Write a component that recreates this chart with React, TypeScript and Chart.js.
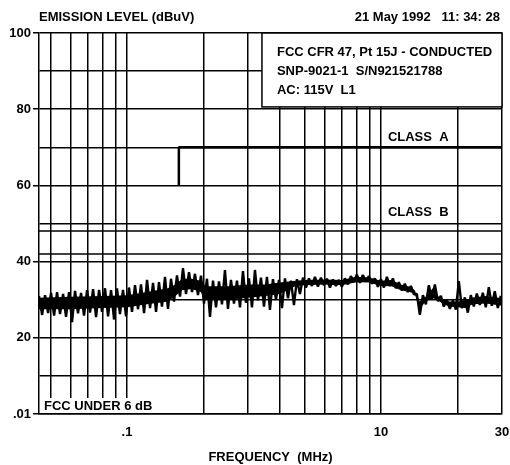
import { useEffect, useRef } from 'react';
import { Chart, registerables } from 'chart.js';

Chart.register(...registerables);

const freqMHz = [
  0.450, 0.463, 0.4755, 0.4887, 0.502, 0.516, 0.530, 0.5446, 0.5598, 0.575,
  0.591, 0.6073, 0.624, 0.641, 0.659, 0.677, 0.696, 0.715, 0.735, 0.755,
  0.776, 0.797, 0.819, 0.842, 0.865, 0.889, 0.913, 0.938, 0.964, 0.991,
  1.018, 1.046, 1.075, 1.105, 1.135, 1.167, 1.199, 1.232, 1.266, 1.301,
  1.336, 1.373, 1.411, 1.450, 1.490, 1.531, 1.573, 1.617, 1.661, 1.707,
  1.754, 1.803, 1.852, 1.903, 1.956, 2.010, 2.065, 2.122, 2.181, 2.241,
  2.303, 2.366, 2.431, 2.498, 2.567, 2.638, 2.711, 2.786, 2.862, 2.941,
  3.022, 3.106, 3.191, 3.279, 3.370, 3.463, 3.558, 3.656, 3.757, 3.861,
  3.967, 4.077, 4.189, 4.305, 4.423, 4.545, 4.671, 4.799, 4.932, 5.068,
  5.207, 5.351, 5.499, 5.649, 5.806, 5.966, 6.130, 6.299, 6.471, 6.650,
  6.833, 7.022, 7.215, 7.414, 7.618, 7.828, 8.044, 8.265, 8.493, 8.727,
  8.968, 9.218, 9.471, 9.732, 10.0, 10.28, 10.56, 10.85, 11.15, 11.46,
  11.77, 12.10, 12.43, 12.77, 13.13, 13.49, 13.86, 14.24, 14.64, 15.04,
  15.45, 15.88, 16.32, 16.77, 17.23, 17.70, 18.19, 18.70, 19.21, 19.74,
  20.28, 20.84, 21.42, 22.00, 22.61, 23.23, 23.88, 24.53, 25.21, 25.90,
  26.62, 27.35, 28.10, 28.88, 29.67,
];
const levelDbuV = [
  31.0, 26.0, 31.2, 26.5, 31.8, 25.8, 32.0, 26.2, 31.5, 25.5,
  32.0, 24.1, 32.3, 26.4, 31.8, 25.8, 32.5, 26.6, 32.8, 25.4,
  32.6, 26.8, 33.0, 25.6, 32.5, 24.8, 33.0, 26.2, 32.6, 25.6,
  33.2, 26.8, 33.8, 27.5, 34.0, 26.5, 35.2, 27.8, 34.4, 26.8,
  34.6, 28.2, 36.0, 27.6, 35.5, 29.5, 36.4, 30.8, 38.3, 31.5,
  37.2, 32.0, 36.8, 31.2, 36.3, 29.0, 35.5, 25.5, 35.0, 28.0,
  34.8, 28.8, 37.8, 27.6, 35.2, 29.0, 35.0, 28.0, 37.5, 29.2,
  35.6, 28.0, 37.8, 29.8, 35.8, 28.2, 36.0, 27.3, 35.4, 30.0,
  35.2, 27.8, 35.6, 30.4, 35.0, 28.6, 35.4, 31.5, 35.8, 33.2,
  35.6, 33.6, 36.0, 33.4, 35.8, 33.8, 35.5, 33.2, 35.3, 33.6,
  35.2, 33.4, 35.6, 34.0, 36.2, 34.6, 36.6, 34.4, 36.5, 34.8,
  36.2, 34.2, 35.6, 33.4, 35.4, 33.2, 36.0, 33.6, 35.6, 33.0,
  34.6, 32.4, 34.2, 32.0, 33.6, 31.4, 31.5, 26.0, 31.2, 28.8,
  33.8, 30.0, 34.0, 29.6, 31.0, 28.2, 30.0, 27.6, 29.8, 27.4,
  34.9, 27.8, 30.6, 26.6, 31.2, 28.2, 31.6, 28.6, 31.8, 28.0,
  33.3, 28.4, 32.2, 27.8, 31.0,
];

// Solid core of the trace (where the sweep is densely overlapped)
const coreFreq = [
  0.45, 0.6, 0.8, 1.0, 1.2, 1.45, 1.55, 1.65, 1.8, 1.95,
  2.05, 2.5, 3.0, 3.5, 4.0, 4.6, 5, 6, 7, 8,
  9, 10, 11, 12, 13, 13.6, 14.2, 15, 16, 17,
  18.5, 20, 21.5, 23, 26, 30,
];
const coreHigh = [
  30.5, 30.8, 31.0, 31.2, 32.0, 33.0, 34.0, 35.5, 35.5, 35.0,
  33.5, 33.5, 34.0, 34.0, 34.5, 35.0, 35.2, 35.3, 35.2, 36.0,
  35.8, 35.0, 35.2, 34.0, 33.4, 32.5, 29.5, 30.8, 33.0, 30.5,
  29.5, 29.5, 29.8, 30.6, 31.0, 30.4,
];
const coreLow = [
  27.5, 27.5, 27.8, 28.0, 28.8, 29.5, 31.0, 32.5, 32.8, 32.0,
  30.0, 30.0, 30.5, 31.0, 31.5, 33.5, 33.8, 34.0, 33.8, 34.6,
  34.5, 33.6, 33.5, 32.5, 32.0, 31.5, 27.5, 29.5, 30.5, 29.5,
  28.2, 28.0, 27.8, 28.8, 29.0, 28.4,
];

// Limit lines
const classAFreq = [1.6, 1.6, 30];
const classALevel = [60, 70, 70];
const classBFreq = [0.45, 30];
const classBLevel = [48, 48];
const marginFreq = [0.45, 30];
const marginLevel = [42, 42];

// Axes
const xMin = 0.45;
const xMax = 30;
const xGridMHz = [0.5, 0.6, 0.7, 0.8, 0.9, 1, 2, 3, 4, 5, 6, 7, 8, 9, 10, 20, 30];
const xTickLabels: Record<number, string> = { 1: '.1', 10: '10', 30: '30' };
const yGrid = [0, 10, 20, 30, 40, 50, 60, 70, 80, 90, 100];
const yTickLabels: Record<number, string> = { 0: '.01', 20: '20', 40: '40', 60: '60', 80: '80', 100: '100' };

const headerLines = ['FCC CFR 47, Pt 15J - CONDUCTED', 'SNP-9021-1  S/N921521788', 'AC: 115V  L1'];
const FAMILY = '"Liberation Sans", Arial, sans-serif';
const FONT = 'bold 13px ' + FAMILY;

const annotations = {
  id: 'annotations',
  afterDatasetsDraw(chart: any) {
    const { ctx, chartArea: a, scales } = chart;
    const x = scales.x;
    const y = scales.y;
    ctx.save();
    // info box
    const bx = x.getPixelForValue(3.4);
    const by = y.getPixelForValue(100);
    const bb = y.getPixelForValue(80.6);
    ctx.fillStyle = '#fff';
    ctx.fillRect(bx, by, a.right - bx, bb - by);
    ctx.strokeStyle = '#000';
    ctx.lineWidth = 1.5;
    ctx.strokeRect(bx, by, a.right - bx, bb - by);
    ctx.fillStyle = '#000';
    ctx.font = FONT;
    ctx.textBaseline = 'middle';
    ctx.textAlign = 'left';
    headerLines.forEach((t, i) => ctx.fillText(t, bx + 15, by + 19 + i * 19));
    // class labels
    const cx = x.getPixelForValue(10) + 7;
    ctx.fillText('CLASS  A', cx, y.getPixelForValue(70) - 10);
    ctx.fillText('CLASS  B', cx, y.getPixelForValue(50) - 11);
    // FCC under note
    ctx.fillStyle = '#fff';
    ctx.fillRect(a.left + 1, a.bottom - 16, 122, 15);
    ctx.fillStyle = '#000';
    ctx.fillText('FCC UNDER 6 dB', a.left + 5, a.bottom - 8);
    ctx.restore();
  },
  afterDraw(chart: any) {
    const { ctx, chartArea: a } = chart;
    ctx.save();
    ctx.fillStyle = '#000';
    ctx.font = FONT;
    ctx.textBaseline = 'middle';
    ctx.textAlign = 'left';
    ctx.fillText('EMISSION LEVEL (dBuV)', a.left, 17);
    ctx.textAlign = 'right';
    ctx.fillText('21 May 1992   11: 34: 28', a.right - 2, 17);
    ctx.restore();
  },
};

export default function App() {
  const ref = useRef<HTMLCanvasElement>(null);
  useEffect(() => {
    if (!ref.current) return;
    const line = (fx: number[], ly: number[], w: number, fill: any = false) => ({
      data: fx.map((f, i) => ({ x: f, y: ly[i] })),
      borderColor: '#000',
      backgroundColor: '#000',
      borderWidth: w,
      borderJoinStyle: 'bevel' as const,
      pointRadius: 0,
      tension: 0,
      fill,
    });
    const chart = new Chart(ref.current, {
      type: 'line',
      data: {
        datasets: [
          line(freqMHz, levelDbuV, 2.4),
          line(coreFreq, coreLow, 0),
          line(coreFreq, coreHigh, 0, '-1'),
          line(classBFreq, classBLevel, 1.5),
          line(marginFreq, marginLevel, 1.5),
          line(classAFreq, classALevel, 2.5),
        ],
      },
      plugins: [annotations],
      options: {
        responsive: false,
        animation: false,
        events: [],
        layout: { padding: { top: 33, left: 0, right: 8, bottom: 0 } },
        plugins: { legend: { display: false }, tooltip: { enabled: false } },
        scales: {
          x: {
            type: 'logarithmic',
            min: xMin,
            max: xMax,
            afterBuildTicks: (s: any) => {
              s.ticks = xGridMHz.map((v) => ({ value: v }));
            },
            afterFit: (s: any) => {
              s.height = 51;
              s.paddingLeft = 0;
              s.paddingRight = 0;
            },
            ticks: {
              autoSkip: false,
              maxRotation: 0,
              padding: 11,
              color: '#000',
              font: { family: FAMILY, size: 13, weight: 'bold' },
              callback: (v: any) => xTickLabels[Number(v)] ?? '',
            },
            grid: { color: '#000', lineWidth: 1.5, drawTicks: false },
            border: { color: '#000', width: 1.5 },
            title: {
              display: true,
              text: 'FREQUENCY  (MHz)',
              color: '#000',
              font: { family: FAMILY, size: 13, weight: 'bold' },
              padding: { top: 8, bottom: 0 },
            },
          },
          y: {
            min: 0,
            max: 100,
            afterBuildTicks: (s: any) => {
              s.ticks = yGrid.map((v) => ({ value: v }));
            },
            afterFit: (s: any) => {
              s.width = 39;
              s.paddingTop = 0;
              s.paddingBottom = 0;
            },
            ticks: {
              padding: 2,
              color: '#000',
              font: { family: FAMILY, size: 13, weight: 'bold' },
              callback: (v: any) => yTickLabels[Number(v)] ?? '',
            },
            grid: {
              color: '#000',
              lineWidth: 1.5,
              tickLength: 6,
              tickColor: (c: any) => (c.tick && yTickLabels[c.tick.value] !== undefined ? '#000' : 'rgba(0,0,0,0)'),
            },
            border: { color: '#000', width: 1.5 },
          },
        },
      },
    });
    return () => chart.destroy();
  }, []);
  return (
    <div style={{ position: 'fixed', left: 0, top: 0, width: 510, height: 465, background: '#fff' }}>
      <canvas ref={ref} width={510} height={465} />
    </div>
  );
}
